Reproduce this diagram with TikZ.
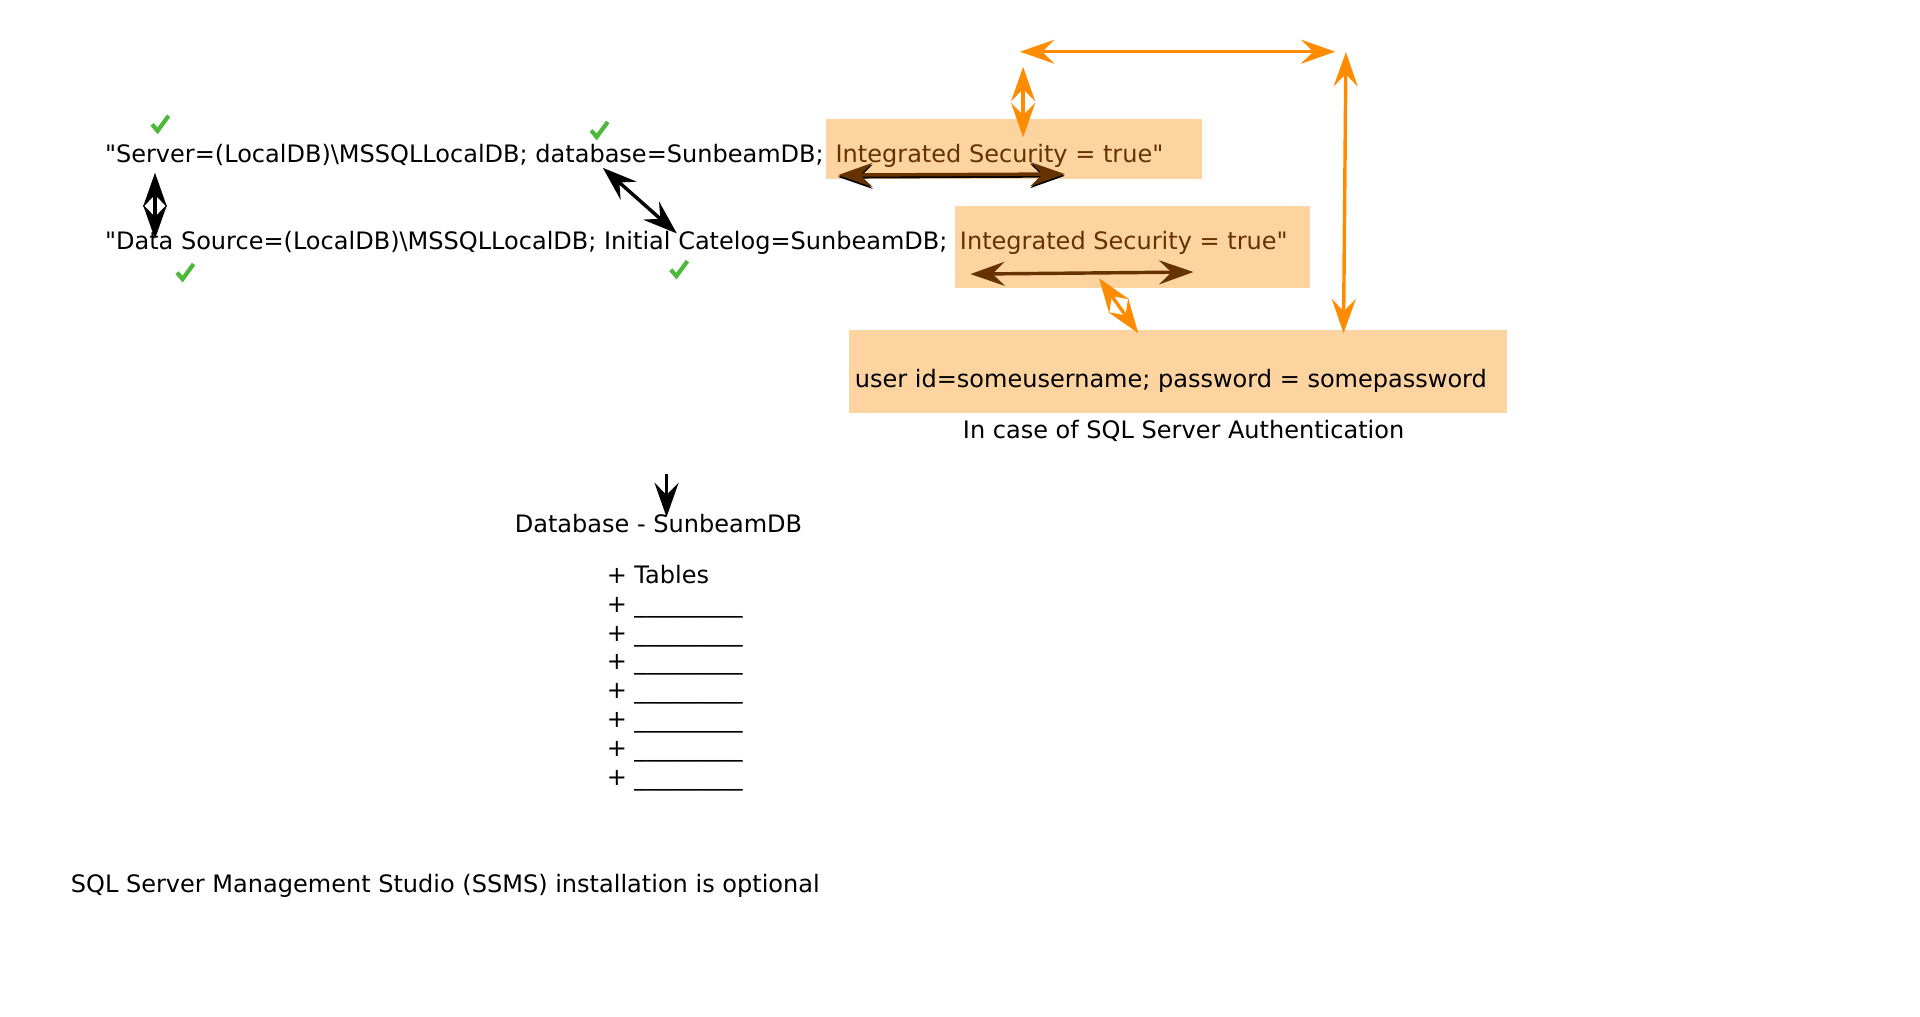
\documentclass[tikz,border=0pt]{standalone}
\usepackage{fontspec}
\newfontfamily\dvs{DejaVu Sans}
\usetikzlibrary{arrows.meta}
\definecolor{boxfill}{RGB}{253,211,159}
\definecolor{brownc}{RGB}{102,51,0}
\definecolor{orangec}{RGB}{255,140,0}
\definecolor{checkc}{RGB}{76,184,58}
\begin{document}
\begin{tikzpicture}[x=1pt,y=-1pt,
  >={Stealth[length=28pt,width=19.6pt,inset=10pt]},
  txt/.style={inner sep=0pt, anchor=base west, font=\dvs\fontsize{19.6}{23.6}\selectfont},
  ctxt/.style={inner sep=0pt, anchor=base, font=\dvs\fontsize{19.6}{23.6}\selectfont},
  box/.style={fill=boxfill, draw=none, inner sep=0pt, anchor=north west},
  blkarrow/.style={draw=black, line width=2.8pt},
  brnarrow/.style={draw=brownc, line width=2.8pt},
  orgarrow/.style={draw=orangec, line width=2.8pt},
  chk/.pic={\draw[checkc, line width=3.4pt, line join=miter] (-6.5,0.5) -- (-2,5.8) -- (7,-6.5);}
]
\useasboundingbox (0,0) rectangle (1567,830);

% boxes
\node[box, minimum width=307pt, minimum height=48.5pt] (b1) at (674,97) {};
\node[box, minimum width=289pt, minimum height=67pt] (b2) at (779.6,168) {};
\node[box, minimum width=537pt, minimum height=67.6pt] (b3) at (693,269.4) {};

% texts
\node[txt] (l1) at (85.5,132.8) {"Server=(LocalDB)\textbackslash MSSQLLocalDB; database=SunbeamDB;\hspace{3.5pt} \textcolor{brownc}{Integrated Security = true"}};
\node[txt] (l2) at (85.5,203.3) {"Data Source=(LocalDB)\textbackslash MSSQLLocalDB; Initial Catelog=SunbeamDB;\hspace{4pt} \textcolor{brownc}{Integrated Security = true"}};
\node[txt] (l3) at (697.5,316) {user id=someusername; password = somepassword};
\node[ctxt] (auth) at (966,358) {In case of SQL Server Authentication};
\node[txt] (db) at (420,435) {Database - SunbeamDB};
\node[txt] (list0) at (495,476) {+ Tables};
\foreach \i in {1,...,7}{
  \node[txt] (list\i) at (495,476+23.6*\i) {+ \_\_\_\_\_\_\_\_\_};
}
\node[txt] (ssms) at (57.7,728) {SQL Server Management Studio (SSMS) installation is optional};

% check marks
\pic at (130.6,101) {chk};
\pic at (489,106) {chk};
\pic at (151,222) {chk};
\pic at (554,219.6) {chk};

% arrow end points
\coordinate (v1a) at (126.5,141);
\coordinate (v1b) at (126.5,195);
\coordinate (d1a) at (492,137);
\coordinate (d1b) at (552.4,190.5);
\coordinate (dna) at (544,387);
\coordinate (dnb) at (544,422);
\coordinate (s1a) at (684,144.4);
\coordinate (s1b) at (869,143.5);
\coordinate (r1a) at (684,142.9);
\coordinate (r1b) at (869,142);
\coordinate (r2a) at (792,223.7);
\coordinate (r2b) at (974,222);
\coordinate (oha) at (832.6,42.2);
\coordinate (ohb) at (1089.8,42.2);
\coordinate (osa) at (835,54.6);
\coordinate (osb) at (835,112);
\coordinate (ola) at (1098.5,42.5);
\coordinate (olb) at (1096.5,272);
\coordinate (oda) at (897,227);
\coordinate (odb) at (929,272);

% black arrows
\draw[blkarrow, <->] (v1a) -- (v1b);
\draw[blkarrow, <->] (d1a) -- (d1b);
\draw[blkarrow, ->] (dna) -- (dnb);
% brown arrows
\draw[blkarrow, <->] (s1a) -- (s1b);
\draw[brnarrow, <->] (r1a) -- (r1b);
\draw[brnarrow, <->] (r2a) -- (r2b);
% orange arrows
\draw[orgarrow, <->] (oha) -- (ohb);
\draw[orgarrow, <->] (osa) -- (osb);
\draw[orgarrow, <->] (ola) -- (olb);
\draw[orgarrow, <->] (oda) -- (odb);
\end{tikzpicture}
\end{document}
